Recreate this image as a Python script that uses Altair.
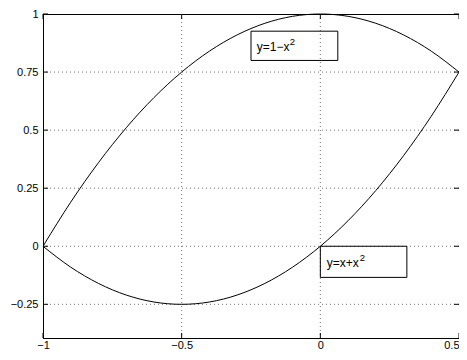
import altair as alt
import pandas as pd

# ---- data ----
x_vals = [-1.0, -0.9, -0.8, -0.7, -0.6, -0.5, -0.4, -0.3, -0.2, -0.1,
          0.0, 0.1, 0.2, 0.3, 0.4, 0.5]
y_upper = [0.0, 0.19, 0.36, 0.51, 0.64, 0.75, 0.84, 0.91, 0.96, 0.99,
           1.0, 0.99, 0.96, 0.91, 0.84, 0.75]
y_lower = [0.0, -0.09, -0.16, -0.21, -0.24, -0.25, -0.24, -0.21, -0.16, -0.09,
           0.0, 0.11, 0.24, 0.39, 0.56, 0.75]
x_ticks = [-1, -0.5, 0, 0.5]
y_ticks = [-0.25, 0, 0.25, 0.5, 0.75, 1]
labels = ["y=1−x", "y=x+x"]
exponents = ["2", "2"]

# ---- layout ----
W, H = 416, 324
XDOM = [-1, 0.5]
YDOM = [-0.395, 1]
FONT = "Liberation Sans"
TICK = 5

xs = alt.Scale(domain=XDOM, nice=False, zero=False)
ys = alt.Scale(domain=YDOM, nice=False, zero=False)
x_axis = alt.Axis(
    values=x_ticks, format=".1~f", labelPadding=1, title=None,
    labelAlign={"condition": {"test": "datum.value >= 0.5", "value": "right"}, "value": "center"},
)
y_axis = alt.Axis(values=y_ticks, format=".2~f", labelPadding=5, title=None)


def X(field):
    return alt.X(field, scale=xs, axis=x_axis, title=None)


def Y(field):
    return alt.Y(field, scale=ys, axis=y_axis, title=None)


curves = pd.DataFrame({
    "x": x_vals + x_vals,
    "y": y_upper + y_lower,
    "curve": ["upper"] * len(x_vals) + ["lower"] * len(x_vals),
})
xt = pd.DataFrame({"v": x_ticks})
yt = pd.DataFrame({"v": y_ticks})

# annotation boxes (positions in data units)
boxes = pd.DataFrame({
    "x0": [-0.25, 0.0], "x1": [0.063, 0.312],
    "y0": [0.80, -0.134], "y1": [0.926, 0.0],
    "tx": [-0.229, 0.023], "ty": [0.857, -0.072],
    "label": labels, "exp": exponents,
})

grid_style = dict(color="#707070", strokeDash=[1, 3], strokeWidth=1)

vgrid = alt.Chart(xt).transform_filter("datum.v > -1 && datum.v < 0.5").mark_rule(**grid_style).encode(
    x=X("v:Q"))
hgrid = alt.Chart(yt).transform_filter("datum.v > -0.395 && datum.v < 1").mark_rule(**grid_style).encode(
    y=Y("v:Q"))

lines = alt.Chart(curves).mark_line(color="black", strokeWidth=1, interpolate="monotone").encode(
    x=X("x:Q"), y=Y("y:Q"), detail="curve:N",
)

rects = alt.Chart(boxes).mark_rect(fill="transparent", stroke="black", strokeWidth=1).encode(
    x=X("x0:Q"), x2="x1:Q", y=Y("y0:Q"), y2="y1:Q")

texts = alt.Chart(boxes).mark_text(align="left", baseline="middle", fontSize=12,
                                   font=FONT, color="black").encode(
    x=X("tx:Q"), y=Y("ty:Q"), text="label:N")

sups = alt.Chart(boxes).mark_text(align="left", baseline="middle", fontSize=9.5,
                                  font=FONT, color="black", dx=33, dy=-5).encode(
    x=X("tx:Q"), y=Y("ty:Q"), text="exp:N")

tick_style = dict(color="black", strokeWidth=1)
left_ticks = alt.Chart(yt).mark_rule(**tick_style).encode(
    y=Y("v:Q"), x=alt.value(0), x2=alt.value(TICK))
right_ticks = alt.Chart(yt).mark_rule(**tick_style).encode(
    y=Y("v:Q"), x=alt.value(W - TICK), x2=alt.value(W))
bottom_ticks = alt.Chart(xt).mark_rule(**tick_style).encode(
    x=X("v:Q"), y=alt.value(H - TICK), y2=alt.value(H))
top_ticks = alt.Chart(xt).mark_rule(**tick_style).encode(
    x=X("v:Q"), y=alt.value(0), y2=alt.value(TICK))

chart = alt.layer(
    vgrid, hgrid, lines, rects, texts, sups,
    left_ticks, right_ticks, bottom_ticks, top_ticks,
).properties(
    width=W, height=H,
    autosize=alt.AutoSizeParams(type="none"),
    padding={"left": 35, "top": 6, "right": 0, "bottom": 12},
).configure_view(
    stroke="black", strokeWidth=1,
).configure_axis(
    domainColor="black", domainWidth=1, ticks=False, grid=False,
    labelFont=FONT, labelFontSize=11, labelColor="black",
)

chart.save("out.html", embed_options={"renderer": "svg", "actions": False})
